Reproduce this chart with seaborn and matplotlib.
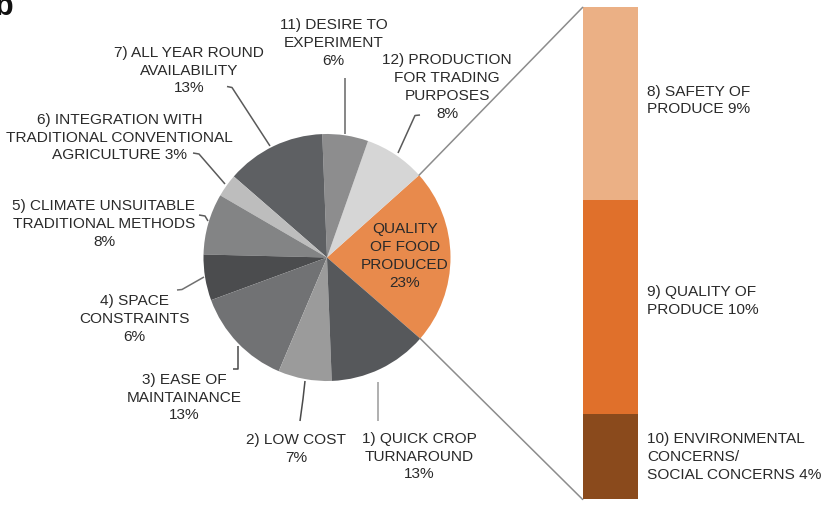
import numpy as np
import pandas as pd
import matplotlib
matplotlib.use("Agg")
import matplotlib.pyplot as plt
from matplotlib.patches import ConnectionPatch
import seaborn as sns

# ---------------- data ----------------
pie_labels = [
    "QUALITY\nOF FOOD\nPRODUCED\n23%",
    "12) PRODUCTION\nFOR TRADING\nPURPOSES\n8%",
    "11) DESIRE TO\nEXPERIMENT\n6%",
    "7) ALL YEAR ROUND\nAVAILABILITY\n13%",
    "6) INTEGRATION WITH\nTRADITIONAL CONVENTIONAL\nAGRICULTURE 3%",
    "5) CLIMATE UNSUITABLE\nTRADITIONAL METHODS\n8%",
    "4) SPACE\nCONSTRAINTS\n6%",
    "3) EASE OF\nMAINTAINANCE\n13%",
    "2) LOW COST\n7%",
    "1) QUICK CROP\nTURNAROUND\n13%",
]
pie_values = [23, 8, 6, 13, 3, 8, 6, 13, 7, 13]
pie_colors = ["#E88A4C", "#D6D6D6", "#8D8D8E", "#5E6063", "#BDBDBD",
              "#838485", "#4B4C4E", "#717274", "#9B9B9B", "#56585B"]

sub_labels = ["8) SAFETY OF\nPRODUCE 9%",
              "9) QUALITY OF\nPRODUCE 10%",
              "10) ENVIRONMENTAL\nCONCERNS/\nSOCIAL CONCERNS 4%"]
sub_values = [9, 10, 4]
sub_colors = ["#EBB085", "#E0702B", "#8A4A1C"]

# ---------------- style ----------------
sns.set_theme(style="white")
plt.rcParams["font.family"] = ["Liberation Sans", "DejaVu Sans"]
TXT = "#2a2a2a"
FS = 11.1
LS = 1.34

W, H = 825, 506
fig = plt.figure(figsize=(W / 100, H / 100), dpi=100)
ax = fig.add_axes([0, 0, 1, 1])


def Y(y):
    return H - y


# ---------------- pie ----------------
cx, cy, r = 327, Y(258.5), 123.5
start = -41.0
wedges, _ = ax.pie(pie_values, colors=pie_colors, startangle=start,
                   counterclock=True, center=(cx, cy), radius=r,
                   wedgeprops=dict(linewidth=0))
ax.set_xlim(0, W)
ax.set_ylim(0, H)
ax.set_aspect("equal")
ax.axis("off")

# label positions (image pixel coords: center x, center y)
label_pos = [
    (405, 256), (447, 87), (333.5, 43), (189, 70.5), (119.5, 137.7),
    (104, 224), (134, 318.8), (184.5, 397.6), (296, 449), (419.5, 456.7),
]
for lab, (lx, ly) in zip(pie_labels, label_pos):
    ax.text(lx, Y(ly), lab, ha="center", va="center", fontsize=FS,
            color=TXT, linespacing=LS, multialignment="center")

# leader lines (image pixel coords)
leaders = [
    ([(420, 116), (415, 116.5), (398, 154)], "#5a5a5a"),
    ([(345, 79), (345, 135)], "#666666"),
    ([(227, 87.5), (232, 88.5), (270, 147)], "#5a5a5a"),
    ([(193, 154), (199, 155), (225, 185)], "#5a5a5a"),
    ([(199, 216), (205, 217), (208, 222)], "#5a5a5a"),
    ([(177, 291), (182, 290.5), (204, 278)], "#707070"),
    ([(233, 370), (238, 370), (238, 347)], "#4a4a4a"),
    ([(300, 422), (303, 400), (305, 382)], "#4a4a4a"),
    ([(378, 422), (378, 383)], "#9a9a9a"),
]
for pts, col in leaders:
    xs = [p[0] for p in pts]
    ys = [Y(p[1]) for p in pts]
    ax.plot(xs, ys, color=col, lw=1.1, solid_capstyle="butt")

# ---------------- stacked sub bar ----------------
bx0, bx1, by0, by1 = 582.7, 637.5, 8.3, 500.5
axb = fig.add_axes([bx0 / W, (H - by1) / H, (bx1 - bx0) / W, (by1 - by0) / H])
cum = np.cumsum(sub_values)
for val, col in zip(cum[::-1], sub_colors[::-1]):
    df = pd.DataFrame({"g": ["sub"], "v": [val]})
    sns.barplot(data=df, x="g", y="v", color=col, width=1.0, ax=axb,
                linewidth=0, saturation=1)
axb.set_xlim(-0.5, 0.5)
axb.set_ylim(cum[-1], 0)
axb.axis("off")

sub_text_y = [100.5, 301, 457]
for lab, ty in zip(sub_labels, sub_text_y):
    ax.text(647, Y(ty), lab, ha="left", va="center", fontsize=FS,
            color=TXT, linespacing=LS)

# connector lines from pie to bar
a1 = np.deg2rad(start + pie_values[0] / sum(pie_values) * 360)
a0 = np.deg2rad(start)
for ang, yb in [(a1, 1), (a0, 0)]:
    con = ConnectionPatch(xyA=(cx + r * np.cos(ang), cy + r * np.sin(ang)),
                          coordsA=ax.transData, xyB=(0, yb),
                          coordsB=axb.transAxes, color="#8c8c8c", lw=1.1)
    fig.add_artist(con)

# panel letter (partly cut off at the top-left corner, as in the source)
ax.text(-5, Y(15), "b", fontsize=22, fontweight="bold", color="#111111",
        ha="left", va="baseline")

fig.savefig("out.png", dpi=100)
